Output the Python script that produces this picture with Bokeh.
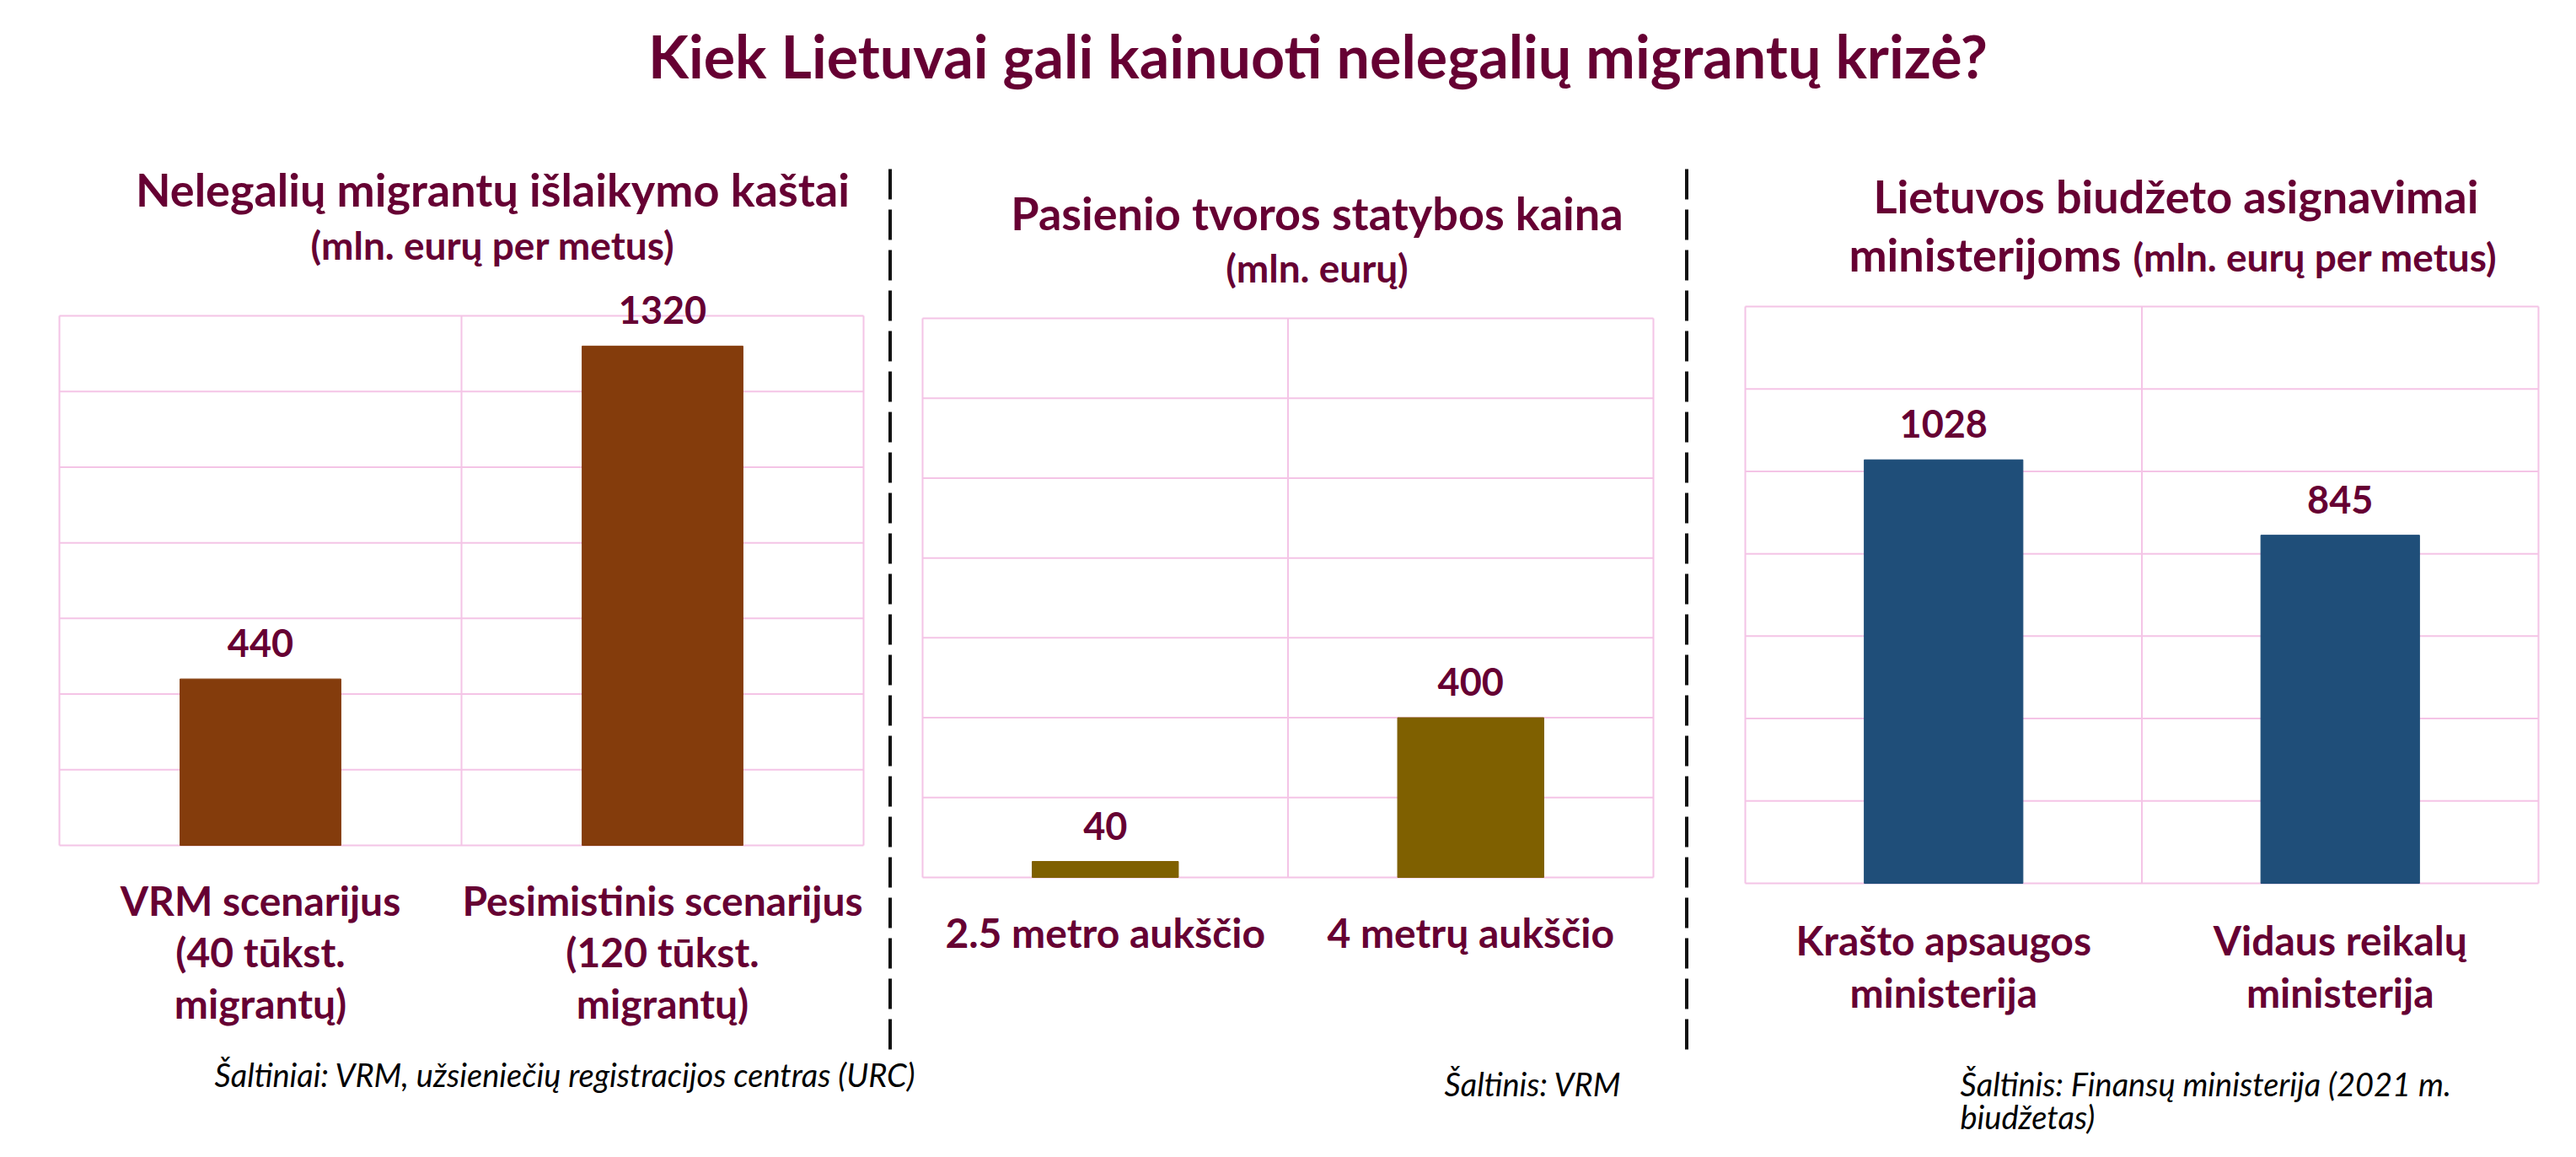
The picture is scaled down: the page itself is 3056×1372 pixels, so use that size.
from bokeh.plotting import figure
from bokeh.models import Range1d, LabelSet, ColumnDataSource, Grid
from bokeh.core.properties import value
from bokeh.embed import file_html
from bokeh.resources import INLINE

# ---------------- data ----------------
TITLE = "Kiek Lietuvai gali kainuoti nelegalių migrantų krizė?"

P1_TITLE = "Nelegalių migrantų išlaikymo kaštai"
P1_SUB = "(mln. eurų per metus)"
P1_CATS = ["VRM scenarijus\n(40 tūkst.\nmigrantų)", "Pesimistinis scenarijus\n(120 tūkst.\nmigrantų)"]
P1_VALUES = [440, 1320]
P1_SOURCE = "Šaltiniai: VRM, užsieniečių registracijos centras (URC)"

P2_TITLE = "Pasienio tvoros statybos kaina"
P2_SUB = "(mln. eurų)"
P2_CATS = ["2.5 metro aukščio", "4 metrų aukščio"]
P2_VALUES = [40, 400]
P2_SOURCE = "Šaltinis: VRM"

P3_TITLE = "Lietuvos biudžeto asignavimai"
P3_TITLE2 = "ministerijoms"
P3_SUB = "(mln. eurų per metus)"
P3_CATS = ["Krašto apsaugos\nministerija", "Vidaus reikalų\nministerija"]
P3_VALUES = [1028, 845]
P3_SOURCE = "Šaltinis: Finansų ministerija (2021 m.\nbiudžetas)"

Y_TICKS = [0, 200, 400, 600, 800, 1000, 1200, 1400]

# ---------------- style / layout ----------------
MAROON = "#660033"
PINK = "#F4C4E6"
FONT = "Lato"
BAR_COLORS = ["#843C0C", "#7F6000", "#1F4E79"]

W, H = 3050, 1366
X0, Y0 = 0, 0            # page position of the canvas
X1, Y1 = X0 + W, Y0 + H

TITLE_SIZE = "70px"
PT_SIZE = "54px"
SUB_SIZE = "46px"
NUM_SIZE = "45px"
CAT_SIZE = "48px"
SRC_SIZE = "38px"

p = figure(width=W, height=H, x_range=Range1d(0, W), y_range=Range1d(0, H),
           x_axis_location=None, y_axis_location=None, title=None,
           toolbar_location=None, output_backend="svg", min_border=0)
for r in list(p.center):
    if isinstance(r, Grid):
        r.visible = False
p.outline_line_color = None
p.background_fill_color = "white"
p.border_fill_color = "white"


def gx(px):
    return px - X0


def gy(py):
    return Y1 - py


def labels(xs, ys, texts, size, align="center", style="bold", color=MAROON, y_offset=0, **rn):
    src = ColumnDataSource(dict(x=list(xs), y=list(ys), t=list(texts)))
    p.add_layout(LabelSet(x="x", y="y", text="t", source=src, y_offset=y_offset,
                          text_align=align, text_baseline="alphabetic",
                          text_font=value(FONT), text_font_style=style,
                          text_font_size=value(size), text_color=color, **rn))


def page_text(px, py, s, size, align="center", style="bold", color=MAROON):
    labels([gx(px)], [gy(py)], [s], size, align=align, style=style, color=color)


def panel(name, box, cats, vals, color, cat_base, cat_step):
    L, T, R, B = box
    n = len(cats)
    ymin, ymax = Y_TICKS[0], Y_TICKS[-1]
    kx = n / (R - L)
    ky = (ymax - ymin) / (B - T)
    p.extra_x_ranges[name + "x"] = Range1d(0 - (L - X0) * kx, n + (X1 - R) * kx)
    p.extra_y_ranges[name + "y"] = Range1d(ymin - (Y1 - B) * ky, ymax + (T - Y0) * ky)
    rn = dict(x_range_name=name + "x", y_range_name=name + "y")

    # grid lines (horizontal at the value ticks, vertical at category borders)
    p.segment(x0=[0] * len(Y_TICKS), x1=[n] * len(Y_TICKS), y0=Y_TICKS, y1=Y_TICKS,
              line_color=PINK, line_width=2, **rn)
    p.segment(x0=list(range(n + 1)), x1=list(range(n + 1)), y0=[ymin] * (n + 1),
              y1=[ymax] * (n + 1), line_color=PINK, line_width=2, **rn)

    xs = [i + 0.5 for i in range(n)]
    src = ColumnDataSource(dict(x=xs, top=vals, label=[str(v) for v in vals]))
    p.vbar(x="x", top="top", width=0.4, source=src, fill_color=color,
           line_color=color, **rn)
    labels(xs, vals, [str(v) for v in vals], NUM_SIZE, y_offset=26, **rn)

    # category labels, one line at a time, under each bar
    cx, cy, ct = [], [], []
    for i, c in enumerate(cats):
        for j, line in enumerate(c.split("\n")):
            cx.append(xs[i])
            cy.append(ymax - (cat_base + j * cat_step - T) * ky)
            ct.append(line)
    labels(cx, cy, ct, CAT_SIZE, **rn)


# main title
page_text(1563, 92, TITLE, TITLE_SIZE)

# dashed dividers
for dxp in (1055.5, 2000.5):
    p.segment(x0=[gx(dxp)], x1=[gx(dxp)], y0=[gy(200)], y1=[gy(1246)],
              line_color="#111111", line_width=4, line_dash="36 12")

# panel 1
panel("p1", (70, 374, 1024, 1002), P1_CATS, P1_VALUES, BAR_COLORS[0], 1085, 61)
page_text(584, 244, P1_TITLE, PT_SIZE)
page_text(584, 307, P1_SUB, SUB_SIZE)
page_text(254, 1288, P1_SOURCE, SRC_SIZE, align="left", style="italic", color="#000000")

# panel 2
panel("p2", (1094, 377, 1961, 1040), P2_CATS, P2_VALUES, BAR_COLORS[1], 1123, 61)
page_text(1562, 272, P2_TITLE, PT_SIZE)
page_text(1562, 334, P2_SUB, SUB_SIZE)
page_text(1713, 1299, P2_SOURCE, SRC_SIZE, align="left", style="italic", color="#000000")

# panel 3
panel("p3", (2070, 363, 3011, 1047), P3_CATS, P3_VALUES, BAR_COLORS[2], 1132, 62)
page_text(2581, 252, P3_TITLE, PT_SIZE)
page_text(2516, 321, P3_TITLE2, PT_SIZE, align="right")
page_text(2530, 321, P3_SUB, SUB_SIZE, align="left")
for j, line in enumerate(P3_SOURCE.split("\n")):
    page_text(2325, 1299 + j * 39, line, SRC_SIZE, align="left", style="italic", color="#000000")

open("out.html", "w").write(file_html(p, INLINE))
